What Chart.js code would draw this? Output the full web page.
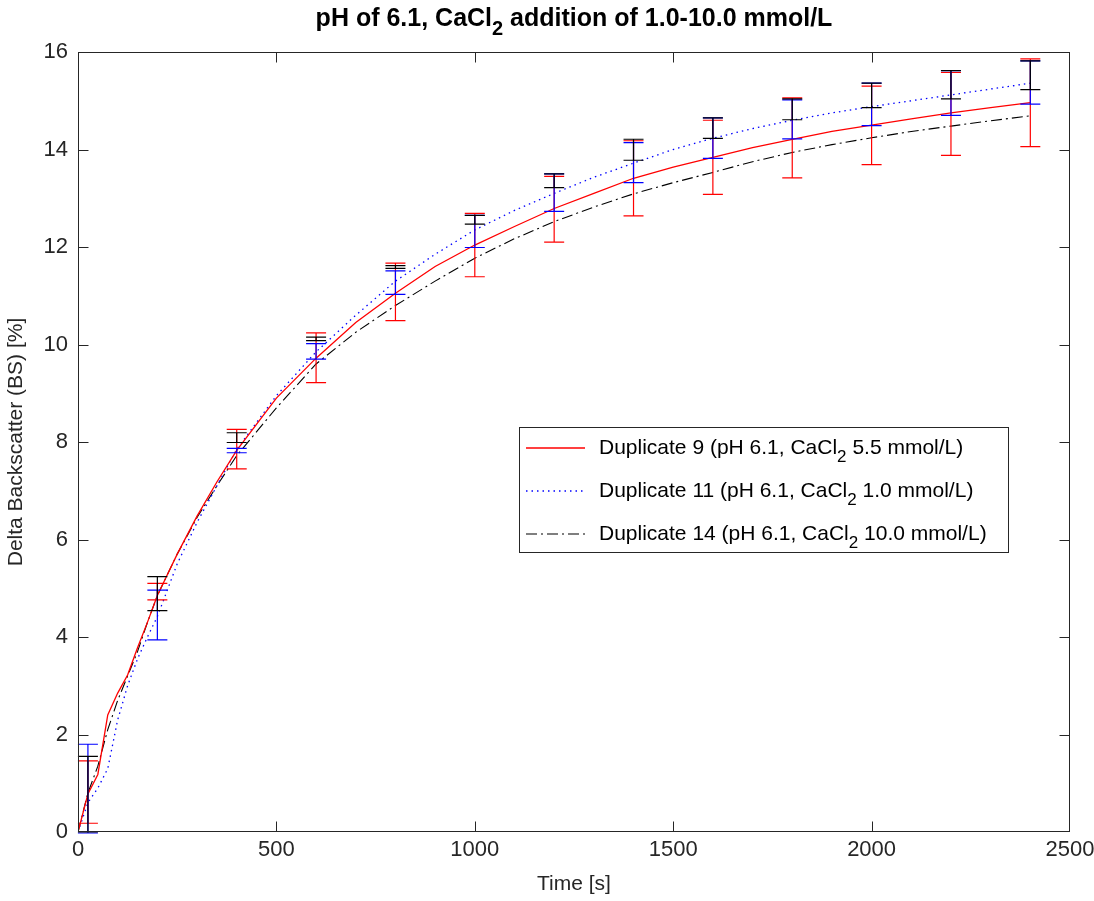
<!DOCTYPE html>
<html lang="en">

<head>
  <meta charset="UTF-8" />
  <title>Delta Backscatter</title>
  <script src="https://cdn.jsdelivr.net/npm/chart.js"></script>
  <style>
    body { margin: 0; background: #fff; }
    #wrap { width: 1094px; height: 901px; }
  </style>
</head>

<body>
  <div id="wrap"><canvas id="bsChart" width="1094" height="901"></canvas></div>
</body>

</html>

<script>
  // tempos das curvas [s]
  var tempos = [0, 25, 50, 75, 100, 125, 150, 175, 200, 250, 300, 350, 400, 500, 600, 700, 800, 900,
    1000, 1100, 1200, 1300, 1400, 1500, 1600, 1700, 1800, 1900, 2000, 2100, 2200, 2300, 2400]

  var dup9 = [0, 0.78, 1.18, 2.4, 2.85, 3.22, 3.78, 4.3, 4.85, 5.7, 6.48, 7.18, 7.83, 8.9, 9.72, 10.45, 11.05, 11.6,
    12.04, 12.42, 12.79, 13.1, 13.41, 13.64, 13.84, 14.04, 14.21, 14.37, 14.5, 14.63, 14.75, 14.86, 14.96]
  var dup11 = [0, 0.6, 0.9, 1.3, 2.3, 3.0, 3.55, 4.0, 4.42, 5.5, 6.35, 7.1, 7.85, 8.95, 9.85, 10.6, 11.3, 11.85,
    12.35, 12.75, 13.1, 13.43, 13.72, 14.0, 14.23, 14.43, 14.6, 14.75, 14.88, 15.0, 15.12, 15.24, 15.36]
  var dup14 = [0, 0.8, 1.35, 2.1, 2.7, 3.2, 3.7, 4.3, 4.85, 5.7, 6.45, 7.1, 7.72, 8.7, 9.6, 10.25, 10.8, 11.3,
    11.77, 12.17, 12.52, 12.82, 13.09, 13.32, 13.53, 13.75, 13.94, 14.1, 14.24, 14.37, 14.48, 14.59, 14.69]

  // barras de erro (minimo / maximo)
  var tErro = [25, 200, 400, 600, 800, 1000, 1200, 1400, 1600, 1800, 2000, 2200, 2400]

  var dup9Min = [0.18, 4.76, 7.45, 9.22, 10.49, 11.39, 12.10, 12.64, 13.08, 13.42, 13.69, 13.88, 14.06]
  var dup9Max = [1.46, 5.10, 8.26, 10.24, 11.67, 12.69, 13.45, 14.18, 14.60, 15.06, 15.30, 15.58, 15.86]
  var dup11Min = [-0.02, 3.94, 7.78, 9.70, 11.03, 11.99, 12.73, 13.32, 13.82, 14.22, 14.49, 14.70, 14.93]
  var dup11Max = [1.80, 4.96, 7.87, 10.02, 11.51, 12.65, 13.50, 14.14, 14.65, 15.02, 15.36, 15.62, 15.82]
  var dup14Min = [0.0, 4.54, 7.99, 10.08, 11.56, 12.47, 13.22, 13.78, 14.23, 14.61, 14.86, 15.04, 15.23]
  var dup14Max = [1.55, 5.24, 8.19, 10.15, 11.62, 12.65, 13.50, 14.21, 14.65, 15.04, 15.36, 15.62, 15.82]

  var xTicks = [0, 500, 1000, 1500, 2000, 2500]
  var yTicks = [0, 2, 4, 6, 8, 10, 12, 14, 16]

  var titulo = 'pH of 6.1, CaCl_2 addition of 1.0-10.0 mmol/L'
  var legendas = [
    'Duplicate 9 (pH 6.1, CaCl_2 5.5 mmol/L)',
    'Duplicate 11 (pH 6.1, CaCl_2 1.0 mmol/L)',
    'Duplicate 14 (pH 6.1, CaCl_2 10.0 mmol/L)'
  ]

  var fonte = '"Liberation Sans", Arial, Helvetica, sans-serif'
  var corEixo = '#262626'

  function pontos(xs, ys) {
    return xs.map((x, i) => ({ x: x, y: ys[i] }))
  }

  // escreve texto com indice (ex: CaCl_2)
  function textoComIndice(ctx, texto, x, y, tam, peso, alinhar) {
    var partes = texto.split(/_(\d)/)
    var sub = Math.round(tam * 0.8)
    var larg = 0
    partes.forEach((p, i) => {
      ctx.font = peso + ' ' + (i % 2 ? sub : tam) + 'px ' + fonte
      larg += ctx.measureText(p).width
    })
    var cx = alinhar === 'center' ? x - larg / 2 : x
    ctx.textAlign = 'left'
    ctx.textBaseline = 'middle'
    partes.forEach((p, i) => {
      ctx.font = peso + ' ' + (i % 2 ? sub : tam) + 'px ' + fonte
      ctx.fillText(p, cx, i % 2 ? y + tam * 0.42 : y)
      cx += ctx.measureText(p).width
    })
  }

  var series = [
    { label: legendas[0], cor: '#ff0000', dash: [], larg: 1.3, min: dup9Min, max: dup9Max },
    { label: legendas[1], cor: '#0000ff', dash: [1.5, 4], larg: 1.3, min: dup11Min, max: dup11Max },
    { label: legendas[2], cor: '#000000', dash: [11, 4, 2, 4], larg: 1.1, min: dup14Min, max: dup14Max }
  ]

  var errorBarPlugin = {
    id: 'errorBars',
    afterDatasetsDraw(chart) {
      var ctx = chart.ctx
      var sx = chart.scales.x, sy = chart.scales.y
      ctx.save()
      ctx.lineWidth = 1.2
      series.forEach(s => {
        ctx.strokeStyle = s.cor
        tErro.forEach((t, i) => {
          var px = sx.getPixelForValue(t)
          var y1 = sy.getPixelForValue(s.min[i])
          var y2 = sy.getPixelForValue(s.max[i])
          ctx.beginPath()
          ctx.moveTo(px, y1); ctx.lineTo(px, y2)
          ctx.moveTo(px - 10, y1); ctx.lineTo(px + 10, y1)
          ctx.moveTo(px - 10, y2); ctx.lineTo(px + 10, y2)
          ctx.stroke()
        })
      })
      ctx.restore()
    }
  }

  var molduraPlugin = {
    id: 'moldura',
    afterDraw(chart) {
      var ctx = chart.ctx, a = chart.chartArea
      var sx = chart.scales.x, sy = chart.scales.y
      var l = Math.round(a.left) + 0.5, r = Math.round(a.right) - 0.5
      var t = Math.round(a.top) + 0.5, b = Math.round(a.bottom) - 0.5
      ctx.save()
      ctx.strokeStyle = corEixo
      ctx.lineWidth = 1
      ctx.strokeRect(l, t, r - l, b - t)
      ctx.beginPath()
      xTicks.forEach(v => {
        var px = Math.min(r, Math.round(sx.getPixelForValue(v)) + 0.5)
        ctx.moveTo(px, b); ctx.lineTo(px, b - 10)
        ctx.moveTo(px, t); ctx.lineTo(px, t + 10)
      })
      yTicks.forEach(v => {
        var py = Math.max(t, Math.min(b, Math.round(sy.getPixelForValue(v)) + 0.5))
        ctx.moveTo(l, py); ctx.lineTo(l + 10, py)
        ctx.moveTo(r, py); ctx.lineTo(r - 10, py)
      })
      ctx.stroke()

      // titulo
      ctx.fillStyle = '#000'
      textoComIndice(ctx, titulo, (a.left + a.right) / 2, 19, 25, 'bold', 'center')

      // legenda
      var bx = 519, by = 427, bw = 489, bh = 125
      ctx.fillStyle = '#fff'
      ctx.fillRect(bx, by, bw, bh)
      ctx.strokeStyle = corEixo
      ctx.strokeRect(bx + 0.5, by + 0.5, bw, bh)
      series.forEach((s, i) => {
        var ly = by + 21 + i * 43
        ctx.strokeStyle = s.cor
        ctx.lineWidth = s.larg
        ctx.setLineDash(s.dash)
        ctx.beginPath()
        ctx.moveTo(bx + 7, ly); ctx.lineTo(bx + 66, ly)
        ctx.stroke()
        ctx.setLineDash([])
        ctx.fillStyle = '#000'
        textoComIndice(ctx, s.label, bx + 80, ly, 21, 'normal', 'left')
      })
      ctx.restore()
    }
  }

  var ctx = document.getElementById('bsChart')

  new Chart(ctx, {
    type: 'line',
    data: {
      datasets: [
        { label: legendas[0], data: pontos(tempos, dup9), borderColor: series[0].cor, borderWidth: series[0].larg, borderDash: series[0].dash },
        { label: legendas[1], data: pontos(tempos, dup11), borderColor: series[1].cor, borderWidth: series[1].larg, borderDash: series[1].dash },
        { label: legendas[2], data: pontos(tempos, dup14), borderColor: series[2].cor, borderWidth: series[2].larg, borderDash: series[2].dash }
      ]
    },
    plugins: [errorBarPlugin, molduraPlugin],
    options: {
      responsive: false,
      animation: false,
      devicePixelRatio: 1,
      elements: { point: { radius: 0 }, line: { tension: 0 } },
      layout: { padding: { top: 52, right: 24, bottom: 0, left: 0 } },
      plugins: {
        legend: { display: false },
        tooltip: { enabled: false }
      },
      scales: {
        x: {
          type: 'linear',
          min: 0,
          max: 2500,
          afterBuildTicks: s => { s.ticks = xTicks.map(v => ({ value: v })) },
          afterFit: s => { s.height = 69; s.paddingLeft = 0; s.paddingRight = 0 },
          grid: { display: false, drawTicks: false },
          border: { display: false },
          ticks: { color: corEixo, padding: 5, maxRotation: 0, callback: v => String(v), font: { family: fonte, size: 22 } },
          title: { display: true, text: 'Time [s]', color: corEixo, padding: { top: 2 }, font: { family: fonte, size: 21 } }
        },
        y: {
          type: 'linear',
          min: 0,
          max: 16,
          afterBuildTicks: s => { s.ticks = yTicks.map(v => ({ value: v })) },
          afterFit: s => { s.width = 78; s.paddingTop = 0; s.paddingBottom = 0 },
          grid: { display: false, drawTicks: false },
          border: { display: false },
          ticks: { color: corEixo, padding: 10, callback: v => String(v), font: { family: fonte, size: 22 } },
          title: { display: true, text: 'Delta Backscatter (BS) [%]', color: corEixo, padding: { bottom: 2 }, font: { family: fonte, size: 21 } }
        }
      }
    }
  })
</script>
